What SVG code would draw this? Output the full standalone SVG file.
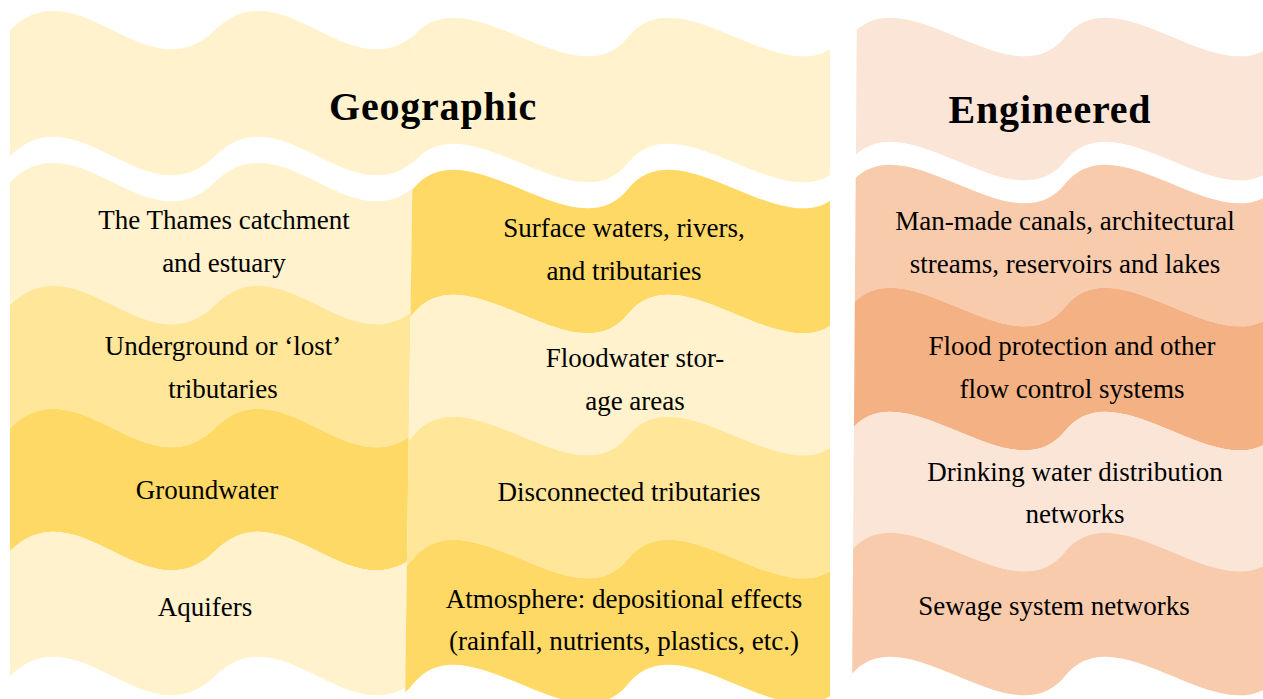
<svg xmlns="http://www.w3.org/2000/svg" width="1263" height="699" viewBox="0 0 1263 699">
<style>
.c1{fill:#FFF2CC}.c2{fill:#FFE699}.c3{fill:#FFD966}
.o1{fill:#FBE5D6}.o2{fill:#F8CBAD}.o3{fill:#F4B183}
text{font-family:"Liberation Serif","Times New Roman",serif;fill:#000;text-anchor:middle}
.t{font-size:27px}
.h{font-size:40px;font-weight:bold;letter-spacing:0.8px}
</style>
<defs>
<clipPath id="clipL"><path d="M0,0 H415 L405,699 H0 Z"/></clipPath>
<clipPath id="clipM"><path d="M415,0 H830 V699 H405 Z"/></clipPath>
<clipPath id="clipR"><path d="M857,0 H1263 V699 H852 Z"/></clipPath>
</defs>
<rect width="1263" height="699" fill="#fff"/>

<g id="geographic">
<path class="c1" clip-path="url(#clipL)" d="M10,30 c68.33,-67 136.67,67 205,0 c68.33,-67 136.67,67 205,0 V156 c-68.33,67 -136.67,-67 -205,0 c-68.33,67 -136.67,-67 -205,0 Z"/>
<path class="c1" clip-path="url(#clipM)" d="M198,37 c53.75,-67 161.25,67 215,0 c53.75,-67 161.25,67 215,0 c53.75,-67 161.25,67 215,0 V163 c-53.75,67 -161.25,-67 -215,0 c-53.75,67 -161.25,-67 -215,0 c-53.75,67 -161.25,-67 -215,0 Z"/>
<text class="h" x="433" y="120">Geographic</text>
</g>

<g id="engineered">
<path class="o1" clip-path="url(#clipR)" d="M850,37 c53.75,-67 161.25,67 215,0 c53.75,-67 161.25,67 215,0 V161 c-53.75,67 -161.25,-67 -215,0 c-53.75,67 -161.25,-67 -215,0 Z"/>
<text class="h" x="1050" y="123">Engineered</text>
</g>

<g id="thames">
<path class="c1" clip-path="url(#clipL)" d="M10,182 c68.33,-67 136.67,67 205,0 c68.33,-67 136.67,67 205,0 V305 c-68.33,67 -136.67,-67 -205,0 c-68.33,67 -136.67,-67 -205,0 Z"/>
<text class="t" x="224" y="229">The Thames catchment</text>
<text class="t" x="224" y="272">and estuary</text>
</g>
<g id="underground">
<path class="c2" clip-path="url(#clipL)" d="M10,305 c68.33,-67 136.67,67 205,0 c68.33,-67 136.67,67 205,0 V428 c-68.33,67 -136.67,-67 -205,0 c-68.33,67 -136.67,-67 -205,0 Z"/>
<text class="t" x="223" y="355">Underground or ‘lost’</text>
<text class="t" x="223" y="398">tributaries</text>
</g>
<g id="groundwater">
<path class="c3" clip-path="url(#clipL)" d="M10,428 c68.33,-67 136.67,67 205,0 c68.33,-67 136.67,67 205,0 V551 c-68.33,67 -136.67,-67 -205,0 c-68.33,67 -136.67,-67 -205,0 Z"/>
<text class="t" x="207" y="499">Groundwater</text>
</g>
<g id="aquifers">
<path class="c1" clip-path="url(#clipL)" d="M10,551 c68.33,-67 136.67,67 205,0 c68.33,-67 136.67,67 205,0 V676 c-68.33,67 -136.67,-67 -205,0 c-68.33,67 -136.67,-67 -205,0 Z"/>
<text class="t" x="205" y="616">Aquifers</text>
</g>

<g id="surface-waters">
<path class="c3" clip-path="url(#clipM)" d="M198,189 c53.75,-67 161.25,67 215,0 c53.75,-67 161.25,67 215,0 c53.75,-67 161.25,67 215,0 V314 c-53.75,67 -161.25,-67 -215,0 c-53.75,67 -161.25,-67 -215,0 c-53.75,67 -161.25,-67 -215,0 Z"/>
<text class="t" x="624" y="237">Surface waters, rivers,</text>
<text class="t" x="624" y="280">and tributaries</text>
</g>
<g id="floodwater">
<path class="c1" clip-path="url(#clipM)" d="M198,314 c53.75,-67 161.25,67 215,0 c53.75,-67 161.25,67 215,0 c53.75,-67 161.25,67 215,0 V436 c-53.75,67 -161.25,-67 -215,0 c-53.75,67 -161.25,-67 -215,0 c-53.75,67 -161.25,-67 -215,0 Z"/>
<text class="t" x="635" y="367">Floodwater stor-</text>
<text class="t" x="635" y="410">age areas</text>
</g>
<g id="disconnected">
<path class="c2" clip-path="url(#clipM)" d="M198,436 c53.75,-67 161.25,67 215,0 c53.75,-67 161.25,67 215,0 c53.75,-67 161.25,67 215,0 V559 c-53.75,67 -161.25,-67 -215,0 c-53.75,67 -161.25,-67 -215,0 c-53.75,67 -161.25,-67 -215,0 Z"/>
<text class="t" x="629" y="501">Disconnected tributaries</text>
</g>
<g id="atmosphere">
<path class="c3" clip-path="url(#clipM)" d="M198,559 c53.75,-67 161.25,67 215,0 c53.75,-67 161.25,67 215,0 c53.75,-67 161.25,67 215,0 V684 c-53.75,67 -161.25,-67 -215,0 c-53.75,67 -161.25,-67 -215,0 c-53.75,67 -161.25,-67 -215,0 Z"/>
<text class="t" x="624" y="608">Atmosphere: depositional effects</text>
<text class="t" x="624" y="650">(rainfall, nutrients, plastics, etc.)</text>
</g>

<g id="canals">
<path class="o2" clip-path="url(#clipR)" d="M850,184 c53.75,-67 161.25,67 215,0 c53.75,-67 161.25,67 215,0 V307 c-53.75,67 -161.25,-67 -215,0 c-53.75,67 -161.25,-67 -215,0 Z"/>
<text class="t" x="1065" y="230">Man-made canals, architectural</text>
<text class="t" x="1065" y="273">streams, reservoirs and lakes</text>
</g>
<g id="flood-protection">
<path class="o3" clip-path="url(#clipR)" d="M850,307 c53.75,-67 161.25,67 215,0 c53.75,-67 161.25,67 215,0 V431 c-53.75,67 -161.25,-67 -215,0 c-53.75,67 -161.25,-67 -215,0 Z"/>
<text class="t" x="1072" y="355">Flood protection and other</text>
<text class="t" x="1072" y="398">flow control systems</text>
</g>
<g id="drinking-water">
<path class="o1" clip-path="url(#clipR)" d="M850,431 c53.75,-67 161.25,67 215,0 c53.75,-67 161.25,67 215,0 V552 c-53.75,67 -161.25,-67 -215,0 c-53.75,67 -161.25,-67 -215,0 Z"/>
<text class="t" x="1075" y="481">Drinking water distribution</text>
<text class="t" x="1075" y="523">networks</text>
</g>
<g id="sewage">
<path class="o2" clip-path="url(#clipR)" d="M850,552 c53.75,-67 161.25,67 215,0 c53.75,-67 161.25,67 215,0 V676 c-53.75,67 -161.25,-67 -215,0 c-53.75,67 -161.25,-67 -215,0 Z"/>
<text class="t" x="1054" y="615">Sewage system networks</text>
</g>

<g id="connectors"/>
</svg>
